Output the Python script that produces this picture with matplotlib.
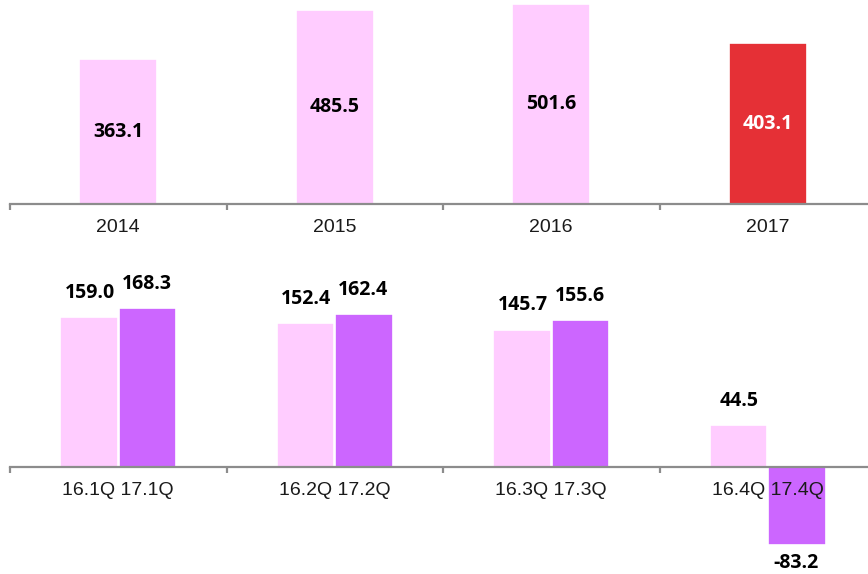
import matplotlib.pyplot as plt
import numpy as np

# data
years = ["2014", "2015", "2016", "2017"]
year_values = [363.1, 485.5, 501.6, 403.1]

quarter_labels = ["16.1Q 17.1Q", "16.2Q 17.2Q", "16.3Q 17.3Q", "16.4Q 17.4Q"]
q_2016 = [159.0, 152.4, 145.7, 44.5]
q_2017 = [168.3, 162.4, 155.6, -83.2]

PINK = "#FFCCFF"
PURPLE = "#CC66FF"
RED = "#E53036"
AXIS_GRAY = "#8C8C8C"

W, H = 868, 574
fig = plt.figure(figsize=(W / 100, H / 100), dpi=100)

num_font = ["Open Sans", "DejaVu Sans"]
tick_font = ["Liberation Sans", "DejaVu Sans"]
NUM_FS = 14
TICK_FS = 14


def style_axis(ax, n, labels):
    for side in ["top", "right", "left"]:
        ax.spines[side].set_visible(False)
    ax.spines["bottom"].set_position(("data", 0))
    ax.spines["bottom"].set_color(AXIS_GRAY)
    ax.spines["bottom"].set_linewidth(1.6)
    ax.set_yticks([])
    ax.set_xlim(-0.5, n - 0.5)
    ax.set_xticks(np.arange(n + 1) - 0.5, minor=True)
    ax.set_xticks(np.arange(n))
    ax.set_xticklabels(labels)
    ax.tick_params(axis="x", which="major", length=0, pad=10.5)
    ax.tick_params(axis="x", which="minor", length=4.5, width=1.6,
                   color=AXIS_GRAY, direction="out")
    for lab in ax.get_xticklabels():
        lab.set_family(tick_font)
        lab.set_fontsize(TICK_FS)
        lab.set_color("#1a1a1a")


# top panel: yearly totals
left = 10 / W
width = 866 / W
ax1 = fig.add_axes([left, 1 - 204 / H, width, 204 / H])
x = np.arange(len(years))
colors = [PINK, PINK, PINK, RED]
ax1.bar(x, year_values, width=0.36, color=colors, edgecolor="white",
        linewidth=1.2)
ax1.set_ylim(0, 204 / 0.399)
style_axis(ax1, len(years), years)
for i, v in enumerate(year_values):
    ax1.text(i, v / 2, f"{v:.1f}", ha="center", va="center",
             fontsize=NUM_FS, fontweight="bold", family=num_font,
             color="white" if colors[i] == RED else "black")

# bottom panel: quarterly comparison
ax2 = fig.add_axes([left, 0, width, 324 / H])
bw = 0.265
ax2.bar(x - bw / 2 - 0.003, q_2016, width=bw, color=PINK, edgecolor="white",
        linewidth=1.2)
ax2.bar(x + bw / 2 + 0.003, q_2017, width=bw, color=PURPLE, edgecolor="white",
        linewidth=1.2)
scale = 0.943
ax2.set_ylim(-(574 - 467) / scale, (467 - 250) / scale)
style_axis(ax2, len(quarter_labels), quarter_labels)

for i in range(len(x)):
    for xpos, v in [(x[i] - bw / 2, q_2016[i]), (x[i] + bw / 2, q_2017[i])]:
        off = 17.5 if v >= 0 else -12.5
        ax2.annotate(f"{v:.1f}", (xpos, v), xytext=(0, off),
                     textcoords="offset points", ha="center",
                     va="center", fontsize=NUM_FS, fontweight="bold",
                     family=num_font)

fig.savefig("out.png", dpi=100)
